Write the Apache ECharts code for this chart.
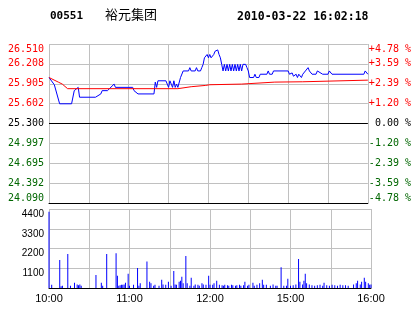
<!DOCTYPE html>
<html><head><meta charset="utf-8">
<script src="https://cdn.jsdelivr.net/npm/echarts@6/dist/echarts.min.js"></script>
<style>html,body{margin:0;padding:0;background:#fff}#c{width:414px;height:314px}</style>
</head><body><div id="c"></div>
<script>
const stockCode = '00551';
const stockName = '裕元集团';
const stamp = '2010-03-22 16:02:18';
const timeTickLabels = ['10:00', '', '11:00', '', '12:00', '', '15:00', '', '16:00'];
const priceTickLabels = ['24.090', '24.392', '24.695', '24.997', '25.300', '25.602', '25.905', '26.208', '26.510'];
const pctTickLabels = ['-4.78 %', '-3.59 %', '-2.39 %', '-1.20 %', ' 0.00 %', '+1.20 %', '+2.39 %', '+3.59 %', '+4.78 %'];
const volTickLabels = ['', '1100', '2200', '3300', '4400'];
const prevClose = 25.30;
const priceMin = 24.09;
const priceMax = 26.51;

// last price (minute index from 10:00, price)
const lastMinutes = [0, 4, 8, 17, 19, 22, 23, 35, 39, 40, 44, 49, 50, 63, 64, 67, 79, 80, 81, 82, 88, 89, 90, 91, 92, 93, 94, 95, 96, 97, 98, 99, 101, 105, 106, 107, 110, 111, 112, 114, 115, 116, 117, 119, 120, 121, 122, 124, 125, 127, 128, 129, 130, 131, 132, 133, 134, 135, 136, 137, 138, 139, 140, 141, 142, 143, 144, 145, 146, 148, 149, 150, 151, 154, 155, 156, 158, 159, 164, 165, 166, 168, 169, 180, 181, 182, 183, 184, 185, 186, 187, 188, 189, 190, 191, 192, 193, 194, 195, 196, 197, 198, 201, 202, 203, 206, 210, 211, 212, 213, 237, 238, 239, 240];
const lastPrices = [26.00, 25.89, 25.60, 25.60, 25.80, 25.85, 25.70, 25.70, 25.75, 25.80, 25.80, 25.90, 25.85, 25.85, 25.80, 25.75, 25.75, 25.93, 25.85, 25.95, 25.95, 25.90, 25.85, 25.95, 25.90, 25.85, 25.95, 25.85, 25.90, 25.85, 25.85, 26.00, 26.10, 26.10, 26.15, 26.10, 26.10, 26.15, 26.10, 26.10, 26.15, 26.20, 26.30, 26.35, 26.30, 26.35, 26.30, 26.35, 26.40, 26.42, 26.35, 26.30, 26.20, 26.10, 26.20, 26.10, 26.20, 26.10, 26.20, 26.10, 26.20, 26.10, 26.20, 26.10, 26.20, 26.10, 26.20, 26.10, 26.20, 26.20, 26.15, 26.10, 26.00, 26.00, 26.05, 26.00, 26.00, 26.05, 26.05, 26.10, 26.05, 26.05, 26.10, 26.10, 26.05, 26.03, 26.07, 26.02, 26.00, 26.05, 26.00, 26.05, 26.02, 26.00, 26.05, 26.05, 26.10, 26.10, 26.15, 26.10, 26.10, 26.05, 26.05, 26.10, 26.10, 26.05, 26.05, 26.10, 26.10, 26.05, 26.05, 26.10, 26.10, 26.05];

// average price
const avgMinutes = [0, 7, 10, 14, 97, 98, 107, 108, 118, 119, 121, 122, 145, 146, 170, 171, 191, 192, 240];
const avgPrices = [26.00, 25.93, 25.90, 25.83, 25.83, 25.86, 25.86, 25.88, 25.88, 25.89, 25.89, 25.90, 25.90, 25.93, 25.93, 25.935, 25.935, 25.96, 25.96];

// volume
const volMinutes = [0, 2, 8, 9, 10, 14, 16, 19, 21, 22, 23, 24, 35, 39, 40, 43, 50, 51, 52, 53, 54, 55, 56, 57, 59, 60, 63, 66, 67, 68, 73, 75, 76, 78, 79, 82, 84, 85, 87, 89, 91, 93, 94, 95, 97, 98, 99, 100, 102, 103, 105, 106, 108, 109, 111, 112, 114, 115, 117, 119, 120, 122, 123, 125, 127, 129, 130, 131, 133, 134, 136, 137, 139, 140, 142, 143, 145, 146, 148, 149, 152, 153, 155, 157, 159, 160, 162, 165, 167, 169, 170, 173, 175, 177, 178, 180, 182, 184, 186, 187, 189, 190, 191, 192, 194, 196, 198, 200, 202, 204, 205, 207, 209, 211, 213, 215, 217, 219, 221, 223, 227, 229, 230, 232, 233, 235, 236, 238, 239, 240];
const volValues = [4250, 180, 1560, 100, 120, 1890, 120, 290, 200, 150, 190, 120, 730, 290, 120, 1890, 1940, 680, 120, 150, 180, 180, 200, 290, 790, 120, 180, 1120, 120, 270, 1470, 350, 270, 120, 180, 120, 460, 200, 180, 350, 120, 950, 200, 180, 350, 400, 620, 270, 1780, 270, 120, 570, 120, 200, 180, 120, 270, 200, 180, 680, 180, 180, 270, 400, 180, 150, 120, 180, 150, 120, 180, 150, 120, 150, 180, 120, 150, 350, 120, 180, 290, 120, 180, 270, 460, 180, 180, 120, 200, 120, 120, 1150, 120, 120, 510, 120, 150, 200, 1610, 350, 200, 400, 790, 270, 200, 150, 120, 150, 180, 120, 290, 150, 120, 180, 150, 120, 180, 150, 150, 120, 200, 270, 400, 200, 350, 570, 350, 270, 180, 200];

const lastData = lastMinutes.map((m, i) => [m, lastPrices[i]]);
const avgData = avgMinutes.map((m, i) => [m, avgPrices[i]]);
const volData = volMinutes.map((m, i) => [m, volValues[i]]);

const GRID = '#c0c0c0';
const mono = 'DejaVu Sans Mono';
const sans = 'Liberation Sans';
const idx = v => Math.round(Number(v)) + 4;
const signColor = v => { const n = Math.round(Number(v)); return n > 0 ? '#ff0000' : (n < 0 ? '#006600' : '#000000'); };

const chart = echarts.init(document.getElementById('c'), null, {renderer: 'canvas'});
chart.setOption({
  animation: false,
  backgroundColor: '#ffffff',
  title: [
    {text: stockCode, left: 50, top: 11, padding: 0, textStyle: {fontFamily: mono, fontWeight: 'bold', fontSize: 11, color: '#000'}},
    {text: stockName, left: 105, top: 8, padding: 0, textStyle: {fontFamily: 'Noto Sans CJK SC', fontWeight: 'normal', fontSize: 13, color: '#000'}},
    {text: stamp, left: 237, top: 11, padding: 0, textStyle: {fontFamily: mono, fontWeight: 'bold', fontSize: 11.5, color: '#000'}}
  ],
  grid: [
    {left: 49, top: 44, width: 322, height: 159},
    {left: 49, top: 209, width: 322, height: 79}
  ],
  xAxis: [
    {gridIndex: 0, type: 'value', min: 0, max: 240, interval: 30,
      axisLine: {show: true, onZero: false, lineStyle: {color: '#000', width: 1}},
      axisTick: {show: false}, axisLabel: {show: false},
      splitLine: {show: true, lineStyle: {color: GRID, width: 1}}},
    {gridIndex: 1, type: 'value', min: 0, max: 240, interval: 30,
      axisLine: {show: true, onZero: false, lineStyle: {color: '#000', width: 1}},
      axisTick: {show: false},
      axisLabel: {show: true, margin: 5, fontFamily: sans, fontSize: 11, color: '#000',
        showMinLabel: true, showMaxLabel: true,
        formatter: v => timeTickLabels[Math.round(v / 30)] || ''},
      splitLine: {show: true, lineStyle: {color: GRID, width: 1}}}
  ],
  yAxis: [
    {gridIndex: 0, type: 'value', position: 'left', min: -4, max: 4, interval: 1,
      axisLine: {show: false}, axisTick: {show: false},
      splitLine: {show: true, lineStyle: {color: GRID, width: 1}},
      axisLabel: {margin: 5, fontFamily: mono, fontSize: 10,
        formatter: v => priceTickLabels[idx(v)], color: signColor,
        verticalAlignMaxLabel: 'top', verticalAlignMinLabel: 'bottom'}},
    {gridIndex: 0, type: 'value', position: 'right', min: -4, max: 4, interval: 1,
      axisLine: {show: false}, axisTick: {show: false}, splitLine: {show: false},
      axisLabel: {margin: 1, fontFamily: mono, fontSize: 10,
        formatter: v => pctTickLabels[idx(v)], color: signColor,
        verticalAlignMaxLabel: 'top', verticalAlignMinLabel: 'bottom'}},
    {gridIndex: 0, type: 'value', min: priceMin, max: priceMax, show: false, splitLine: {show: false}},
    {gridIndex: 1, type: 'value', position: 'left', min: 0, max: 4400, interval: 1100,
      axisLine: {show: false}, axisTick: {show: false},
      splitLine: {show: true, lineStyle: {color: GRID, width: 1}},
      axisLabel: {margin: 5, fontFamily: sans, fontSize: 10, color: '#000', verticalAlign: 'top',
        formatter: v => volTickLabels[Math.round(v / 1100)]}}
  ],
  series: [
    {type: 'line', xAxisIndex: 0, yAxisIndex: 2, data: lastData, showSymbol: false, symbol: 'none',
      lineStyle: {color: '#0000ff', width: 1}, z: 3},
    {type: 'line', xAxisIndex: 0, yAxisIndex: 2, data: avgData, showSymbol: false, symbol: 'none',
      lineStyle: {color: '#ff0000', width: 1}, z: 4,
      markLine: {silent: true, symbol: 'none', label: {show: false},
        lineStyle: {color: '#000', type: 'solid', width: 1},
        data: [{yAxis: prevClose}]}},
    {type: 'bar', xAxisIndex: 1, yAxisIndex: 3, data: volData, barWidth: 1,
      itemStyle: {color: '#0000ff'}}
  ]
});
</script></body></html>
